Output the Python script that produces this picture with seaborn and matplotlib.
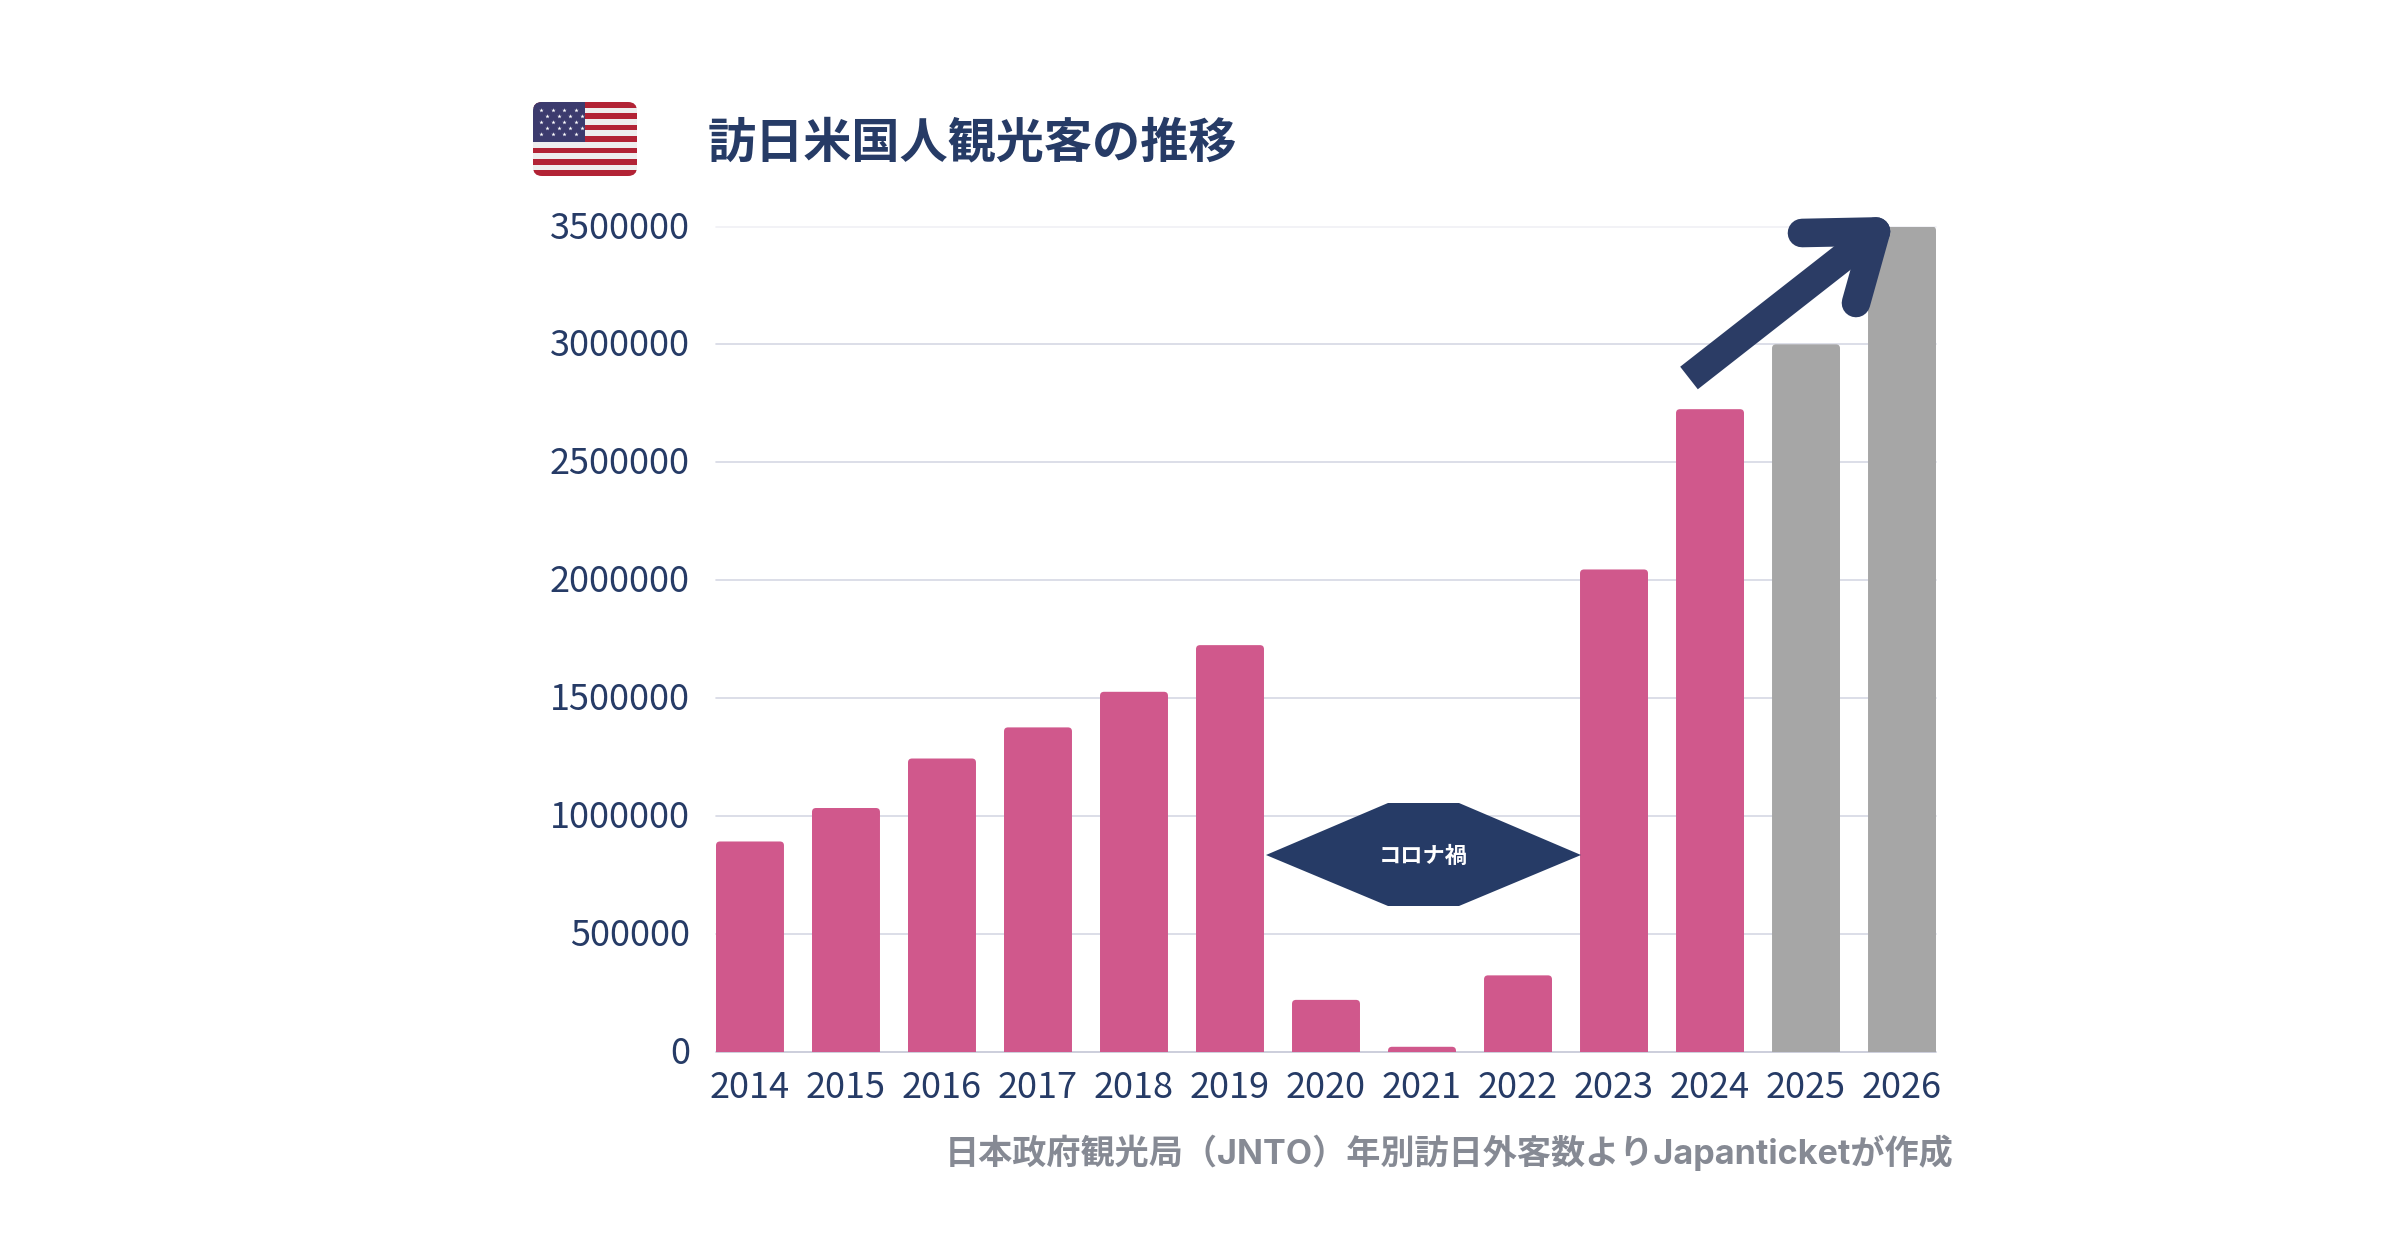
import numpy as np
import pandas as pd
import matplotlib
matplotlib.use("Agg")
import matplotlib.pyplot as plt
import matplotlib.transforms as mtrans
import seaborn as sns
from matplotlib.patches import FancyBboxPatch, Polygon, Rectangle

years = ["2014","2015","2016","2017","2018","2019","2020","2021","2022","2023","2024","2025","2026"]
visitors = [891000,1033000,1243000,1375000,1526000,1724000,219000,20000,323000,2045000,2725000,3000000,3500000]
kinds = ["actual"]*11 + ["forecast"]*2
yticks = [0,500000,1000000,1500000,2000000,2500000,3000000,3500000]
title = "訪日米国人観光客の推移"
source = "日本政府観光局（JNTO）年別訪日外客数よりJapanticketが作成"
note = "コロナ禍"

NAVY="#263B66"; PINK="#D0588C"; GRAY="#A6A6A6"; SRC="#868A94"
sns.set_theme(style="white")
plt.rcParams['font.family'] = ['Noto Sans CJK JP','DejaVu Sans']

W,H=2400,1260
fig=plt.figure(figsize=(12,6.3),dpi=200,facecolor="white")
L,R,T,B=716,1936,226.5,1051.5
ax=fig.add_axes([L/W,1-B/H,(R-L)/W,(B-T)/H])
df=pd.DataFrame({"year":years,"visitors":visitors,"kind":kinds})
sns.barplot(data=df,x="year",y="visitors",hue="kind",palette={"actual":PINK,"forecast":GRAY},
            dodge=False,width=0.708,legend=False,ax=ax,saturation=1)
ax.set_xlim(-0.354,12.354); ax.set_ylim(0,3500000)
ax.set_xlabel(""); ax.set_ylabel("")
ax.set_yticks(yticks); ax.set_yticklabels([str(v) for v in yticks])
ax.tick_params(axis="both",length=0,labelsize=13.0,labelcolor=NAVY)
ax.tick_params(axis="x",pad=6.6); ax.tick_params(axis="y",pad=9.4)
shift=mtrans.ScaledTranslation(0,2/200,fig.dpi_scale_trans)
for lab in ax.get_yticklabels():
    lab.set_transform(lab.get_transform()+shift)
for s in ax.spines.values(): s.set_visible(False)
ax.set_axisbelow(True)
for v in yticks:
    col="#F0F0F5" if v==3500000 else ("#C4C6D6" if v==0 else "#D5D8E4")
    ax.axhline(v,color=col,lw=0.6,zorder=0,clip_on=False)

# soften bar corners
xpx=(R-L)/(12.708); ypx=3500000/(B-T)
r=4/xpx; asp=ypx*xpx
for p in list(ax.patches):
    x,y,w,h=p.get_x(),p.get_y(),p.get_width(),p.get_height()
    if h==0: continue
    c=p.get_facecolor(); p.set_visible(False)
    ax.add_patch(FancyBboxPatch((x,-20000),w,h+20000,boxstyle=f"round,pad=0,rounding_size={min(r,h/asp/1.0+r*0.2)}",
                 mutation_aspect=asp,fc=c,ec="none",zorder=2,clip_on=True))

# overlay in figure pixels
ov=fig.add_axes([0,0,1,1],facecolor="none"); ov.set_xlim(0,W); ov.set_ylim(H,0); ov.axis("off")

# flag
fx,fy,fw,fh=533,102,104,74
clip=FancyBboxPatch((fx,fy),fw,fh,boxstyle="round,pad=0,rounding_size=9",fc="#EEEEEE",ec="none",zorder=3)
ov.add_patch(clip)
for i in range(13):
    col="#B22335" if i%2==0 else "#EEEEEE"
    q=Rectangle((fx,fy+i*fh/13),fw,fh/13+0.3,fc=col,ec="none",zorder=3.1); ov.add_patch(q); q.set_clip_path(clip)
q=Rectangle((fx,fy),fw/2,fh*7/13,fc="#3C3B6E",ec="none",zorder=3.2); ov.add_patch(q); q.set_clip_path(clip)
for row in range(5):
    n=4
    off=8 if row%2==0 else 14
    sx=[fx+off+j*11.5 for j in range(n)]
    ov.scatter(sx,[fy+8+row*5.9]*n,marker="*",s=2.6,color="white",linewidths=0,zorder=3.3)

ov.text(708,143,title,fontsize=17.35,fontweight="bold",color=NAVY,va="center",ha="left")
ov.text(1953,1153,source,fontsize=12.3,fontweight="bold",color=SRC,va="center",ha="right",
        family=['Inter','Noto Sans CJK JP','DejaVu Sans'])

# hexagon
ov.add_patch(Polygon([(1266,855),(1388,803),(1459,803),(1581,855),(1459,906),(1388,906)],closed=True,fc=NAVY,ec="none",zorder=4))
ov.text(1423,856.5,note,fontsize=8.0,fontweight="bold",color="white",ha="center",va="center",zorder=5)

# arrow
AR="#2B3C65"
ov.plot([1689,1868],[378,238],color=AR,lw=10.3,solid_capstyle="butt",zorder=6)
ov.plot([1802,1876],[233,231.5],color=AR,lw=10.3,solid_capstyle="round",zorder=6)
ov.plot([1876,1856],[231.5,303],color=AR,lw=10.3,solid_capstyle="round",zorder=6)

fig.savefig("out.png",dpi=200,facecolor="white")
